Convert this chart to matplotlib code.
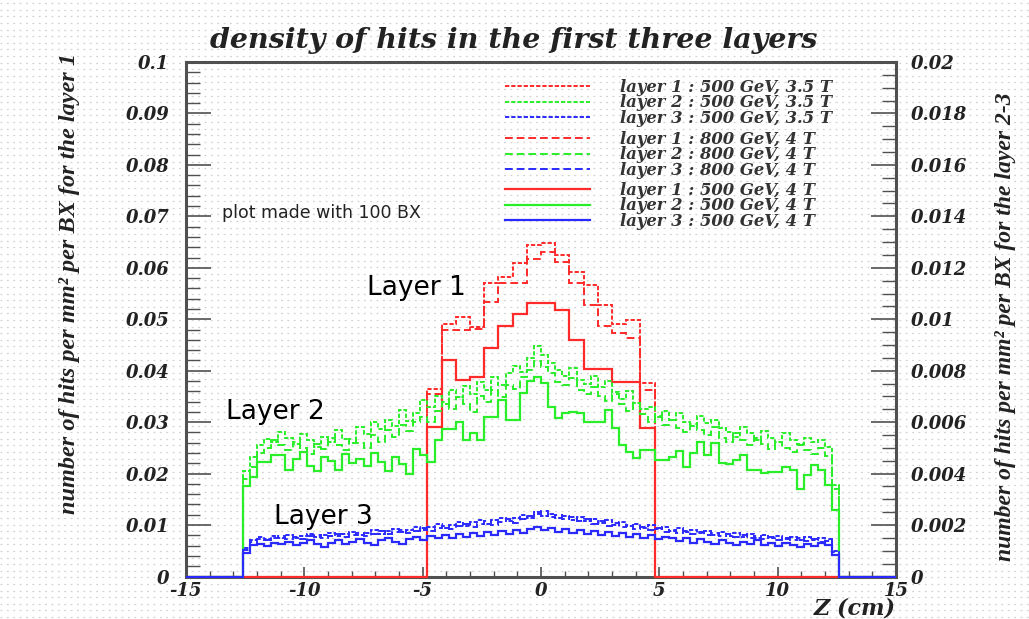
import numpy as np
import matplotlib
matplotlib.use("Agg")
import matplotlib.pyplot as plt
from matplotlib.ticker import MultipleLocator, FuncFormatter
from matplotlib.font_manager import FontProperties

# ---------------- data ----------------
Z_MIN, Z_MAX = -15.0, 15.0
N_FINE = 100          # 0.3 cm bins (layers 2-3)
N_COARSE = 50         # 0.6 cm bins (layer 1)
L1_FIRST_BIN = 17     # first filled coarse bin (z = -4.8 cm)
L23_FIRST_BIN = 8     # first filled fine bin (z = -12.6 cm)

# layer 1, left axis (hits / mm^2 / BX)
layer1_500_35 = [0.0365, 0.0490, 0.0505, 0.0485, 0.0570, 0.0583, 0.0609, 0.0644,
                 0.0648, 0.0625, 0.0592, 0.0567, 0.0528, 0.0490, 0.0499, 0.0376]
layer1_800_4 = [0.0355, 0.0479, 0.0480, 0.0481, 0.0534, 0.0570, 0.0570, 0.0618,
                0.0631, 0.0612, 0.0570, 0.0528, 0.0486, 0.0473, 0.0463, 0.0362]
layer1_500_4 = [0.0290, 0.0421, 0.0382, 0.0388, 0.0445, 0.0486, 0.0510, 0.0532,
                0.0532, 0.0518, 0.0460, 0.0403, 0.0403, 0.0379, 0.0379, 0.0288]

# layer 2, right axis
layer2_500_35 = [0.00410, 0.00464, 0.00510, 0.00536, 0.00524, 0.00562, 0.00540, 0.00516, 0.00552, 0.00532,
                 0.00504, 0.00544, 0.00524, 0.00570, 0.00536, 0.00518, 0.00580, 0.00552, 0.00600, 0.00572,
                 0.00610, 0.00584, 0.00648, 0.00604, 0.00636, 0.00686, 0.00660, 0.00700, 0.00670, 0.00724,
                 0.00696, 0.00740, 0.00710, 0.00756, 0.00724, 0.00776, 0.00744, 0.00790, 0.00820, 0.00796,
                 0.00850, 0.00896, 0.00860, 0.00830, 0.00804, 0.00780, 0.00810, 0.00764, 0.00750, 0.00780,
                 0.00736, 0.00760, 0.00716, 0.00690, 0.00720, 0.00676, 0.00650, 0.00660, 0.00620, 0.00644,
                 0.00610, 0.00636, 0.00600, 0.00584, 0.00624, 0.00596, 0.00610, 0.00576, 0.00560, 0.00544,
                 0.00580, 0.00556, 0.00532, 0.00564, 0.00540, 0.00524, 0.00556, 0.00530, 0.00516, 0.00540,
                 0.00524, 0.00532, 0.00504, 0.00356]
layer2_800_4 = [0.00380, 0.00424, 0.00480, 0.00500, 0.00530, 0.00510, 0.00490, 0.00524, 0.00500, 0.00476,
                0.00516, 0.00496, 0.00540, 0.00510, 0.00490, 0.00536, 0.00520, 0.00500, 0.00550, 0.00524,
                0.00570, 0.00544, 0.00590, 0.00564, 0.00600, 0.00620, 0.00600, 0.00644, 0.00680, 0.00650,
                0.00696, 0.00670, 0.00640, 0.00700, 0.00680, 0.00724, 0.00696, 0.00744, 0.00730, 0.00776,
                0.00804, 0.00836, 0.00816, 0.00790, 0.00756, 0.00744, 0.00770, 0.00724, 0.00710, 0.00736,
                0.00700, 0.00684, 0.00710, 0.00670, 0.00644, 0.00676, 0.00630, 0.00600, 0.00624, 0.00590,
                0.00610, 0.00576, 0.00560, 0.00592, 0.00570, 0.00550, 0.00580, 0.00540, 0.00524, 0.00556,
                0.00530, 0.00510, 0.00540, 0.00516, 0.00496, 0.00524, 0.00500, 0.00484, 0.00510, 0.00490,
                0.00476, 0.00500, 0.00470, 0.00340]
layer2_500_4 = [0.00350, 0.00386, 0.00446, 0.00446, 0.00472, 0.00472, 0.00414, 0.00456, 0.00484, 0.00430,
                0.00410, 0.00464, 0.00450, 0.00414, 0.00476, 0.00440, 0.00458, 0.00428, 0.00480, 0.00444,
                0.00410, 0.00466, 0.00436, 0.00400, 0.00496, 0.00472, 0.00444, 0.00532, 0.00572, 0.00572,
                0.00600, 0.00530, 0.00556, 0.00530, 0.00620, 0.00620, 0.00686, 0.00608, 0.00608, 0.00714,
                0.00760, 0.00776, 0.00752, 0.00660, 0.00616, 0.00636, 0.00640, 0.00636, 0.00600, 0.00600,
                0.00600, 0.00648, 0.00578, 0.00512, 0.00484, 0.00460, 0.00490, 0.00490, 0.00452, 0.00452,
                0.00466, 0.00486, 0.00424, 0.00480, 0.00524, 0.00472, 0.00518, 0.00442, 0.00438, 0.00452,
                0.00472, 0.00414, 0.00414, 0.00402, 0.00406, 0.00406, 0.00424, 0.00414, 0.00342, 0.00394,
                0.00434, 0.00414, 0.00356, 0.00258]

# layer 3, right axis
layer3_500_35 = [0.00110, 0.00140, 0.00152, 0.00146, 0.00158, 0.00150, 0.00162, 0.00148, 0.00156, 0.00166,
                 0.00152, 0.00160, 0.00170, 0.00156, 0.00164, 0.00174, 0.00160, 0.00170, 0.00180, 0.00166,
                 0.00176, 0.00186, 0.00172, 0.00182, 0.00192, 0.00180, 0.00194, 0.00204, 0.00190, 0.00200,
                 0.00212, 0.00198, 0.00210, 0.00220, 0.00206, 0.00218, 0.00228, 0.00214, 0.00226, 0.00240,
                 0.00228, 0.00252, 0.00236, 0.00244, 0.00226, 0.00236, 0.00220, 0.00230, 0.00214, 0.00224,
                 0.00208, 0.00218, 0.00202, 0.00212, 0.00196, 0.00206, 0.00190, 0.00200, 0.00184, 0.00194,
                 0.00178, 0.00188, 0.00172, 0.00182, 0.00168, 0.00178, 0.00162, 0.00172, 0.00158, 0.00168,
                 0.00154, 0.00164, 0.00150, 0.00160, 0.00148, 0.00158, 0.00146, 0.00154, 0.00142, 0.00152,
                 0.00140, 0.00150, 0.00138, 0.00100]
layer3_800_4 = [0.00104, 0.00134, 0.00146, 0.00140, 0.00150, 0.00158, 0.00144, 0.00154, 0.00146, 0.00156,
                0.00162, 0.00150, 0.00158, 0.00166, 0.00154, 0.00162, 0.00170, 0.00158, 0.00166, 0.00176,
                0.00164, 0.00172, 0.00182, 0.00170, 0.00178, 0.00188, 0.00176, 0.00190, 0.00198, 0.00186,
                0.00196, 0.00206, 0.00192, 0.00204, 0.00214, 0.00200, 0.00212, 0.00222, 0.00208, 0.00222,
                0.00236, 0.00244, 0.00256, 0.00232, 0.00240, 0.00222, 0.00230, 0.00214, 0.00222, 0.00206,
                0.00214, 0.00198, 0.00208, 0.00192, 0.00200, 0.00186, 0.00194, 0.00180, 0.00188, 0.00174,
                0.00182, 0.00168, 0.00176, 0.00164, 0.00172, 0.00160, 0.00168, 0.00156, 0.00164, 0.00152,
                0.00160, 0.00148, 0.00156, 0.00146, 0.00154, 0.00142, 0.00150, 0.00140, 0.00148, 0.00138,
                0.00146, 0.00136, 0.00144, 0.00096]
layer3_500_4 = [0.00092, 0.00124, 0.00128, 0.00120, 0.00132, 0.00126, 0.00136, 0.00124, 0.00130, 0.00140,
                0.00128, 0.00116, 0.00132, 0.00140, 0.00126, 0.00136, 0.00144, 0.00132, 0.00124, 0.00140,
                0.00148, 0.00136, 0.00128, 0.00144, 0.00152, 0.00140, 0.00156, 0.00148, 0.00160, 0.00150,
                0.00164, 0.00154, 0.00168, 0.00158, 0.00172, 0.00162, 0.00176, 0.00166, 0.00180, 0.00170,
                0.00184, 0.00192, 0.00180, 0.00188, 0.00174, 0.00184, 0.00170, 0.00180, 0.00166, 0.00176,
                0.00162, 0.00172, 0.00158, 0.00168, 0.00154, 0.00164, 0.00150, 0.00160, 0.00144, 0.00152,
                0.00148, 0.00138, 0.00148, 0.00132, 0.00144, 0.00136, 0.00128, 0.00140, 0.00132, 0.00124,
                0.00136, 0.00128, 0.00140, 0.00124, 0.00132, 0.00120, 0.00132, 0.00124, 0.00116, 0.00128,
                0.00120, 0.00132, 0.00124, 0.00084]

legend_labels = [
    ["layer 1 : 500 GeV, 3.5 T", "layer 2 : 500 GeV, 3.5 T", "layer 3 : 500 GeV, 3.5 T"],
    ["layer 1 : 800 GeV, 4 T", "layer 2 : 800 GeV, 4 T", "layer 3 : 800 GeV, 4 T"],
    ["layer 1 : 500 GeV, 4 T", "layer 2 : 500 GeV, 4 T", "layer 3 : 500 GeV, 4 T"],
]
title = "density of hits in the first three layers"
ylabel_left = "number of hits per mm\u00b2 per BX for the layer 1"
ylabel_right = "number of hits per mm\u00b2 per BX for the layer 2-3"
xlabel = "Z (cm)"
note = "plot made with 100 BX"
layer_tags = [("Layer 1", -7.35, 0.0561), ("Layer 2", -13.3, 0.0320), ("Layer 3", -11.3, 0.0116)]

# ---------------- style ----------------
plt.rcParams['font.family'] = ['DejaVu Serif', 'DejaVu Sans']
plt.rcParams['font.style'] = 'italic'
plt.rcParams['font.weight'] = 'bold'
RED, GREEN, BLUE = '#ff2a2a', '#2aee2a', '#2a2aff'
DOT = (0, (2.2, 1.0))
DASH = (0, (4.0, 2.0))
SOLID = '-'
AXC = '#505050'


def pad(values, first, n):
    out = np.zeros(n)
    out[first:first + len(values)] = values
    return out


W, H = 1029, 619
fig = plt.figure(figsize=(W / 100, H / 100), dpi=100)
fig.patch.set_facecolor('white')

# dotted paper texture in the background
bg = fig.add_axes([0, 0, 1, 1], zorder=-10)
bg.set_axis_off()
bg.set_xlim(0, 1)
bg.set_ylim(0, 1)
for yy in np.arange(2.0 / H, 1.0, 6.6 / H):
    bg.axhline(yy, color='#d2d2d2', lw=0.9, ls=(0, (1.5, 3.6)))

ax = fig.add_axes([186 / W, 1 - 576.5 / H, (896 - 186) / W, (576.5 - 62) / H])
ax.patch.set_visible(False)
ax.set_xlim(Z_MIN, Z_MAX)
ax.set_ylim(0, 0.1)
ax2 = ax.twinx()
ax2.patch.set_visible(False)
ax2.set_ylim(0, 0.02)

edges_c = np.linspace(Z_MIN, Z_MAX, N_COARSE + 1)
edges_f = np.linspace(Z_MIN, Z_MAX, N_FINE + 1)

h = {}
h['l1_35'] = ax.stairs(pad(layer1_500_35, L1_FIRST_BIN, N_COARSE), edges_c, color=RED, lw=1.4, ls=DOT, zorder=3, clip_on=False)
h['l1_8'] = ax.stairs(pad(layer1_800_4, L1_FIRST_BIN, N_COARSE), edges_c, color=RED, lw=1.4, ls=DASH, zorder=3, clip_on=False)
h['l1_4'] = ax.stairs(pad(layer1_500_4, L1_FIRST_BIN, N_COARSE), edges_c, color=RED, lw=1.6, ls=SOLID, zorder=3, clip_on=False)
h['l2_35'] = ax2.stairs(pad(layer2_500_35, L23_FIRST_BIN, N_FINE), edges_f, color=GREEN, lw=1.4, ls=DOT, zorder=3, clip_on=False)
h['l2_8'] = ax2.stairs(pad(layer2_800_4, L23_FIRST_BIN, N_FINE), edges_f, color=GREEN, lw=1.4, ls=DASH, zorder=3, clip_on=False)
h['l2_4'] = ax2.stairs(pad(layer2_500_4, L23_FIRST_BIN, N_FINE), edges_f, color=GREEN, lw=1.6, ls=SOLID, zorder=3, clip_on=False)
h['l3_35'] = ax2.stairs(pad(layer3_500_35, L23_FIRST_BIN, N_FINE), edges_f, color=BLUE, lw=1.4, ls=DOT, zorder=4, clip_on=False)
h['l3_8'] = ax2.stairs(pad(layer3_800_4, L23_FIRST_BIN, N_FINE), edges_f, color=BLUE, lw=1.4, ls=DASH, zorder=4, clip_on=False)
h['l3_4'] = ax2.stairs(pad(layer3_500_4, L23_FIRST_BIN, N_FINE), edges_f, color=BLUE, lw=1.6, ls=SOLID, zorder=4, clip_on=False)

# ---------------- axes ----------------
fmt = FuncFormatter(lambda v, p: '%g' % round(v, 6))
ax.xaxis.set_major_locator(MultipleLocator(5))
ax.xaxis.set_minor_locator(MultipleLocator(1))
ax.yaxis.set_major_locator(MultipleLocator(0.01))
ax.yaxis.set_minor_locator(MultipleLocator(0.002))
ax2.yaxis.set_major_locator(MultipleLocator(0.002))
ax2.yaxis.set_minor_locator(MultipleLocator(0.0005))
ax.xaxis.set_major_formatter(fmt)
ax.yaxis.set_major_formatter(fmt)
ax2.yaxis.set_major_formatter(fmt)

ax.tick_params(axis='x', which='major', direction='in', length=7, width=1.2, color=AXC, top=False, pad=4, labelsize=13, labelcolor='#222222')
ax.tick_params(axis='x', which='minor', direction='in', length=4, width=1.0, color=AXC, top=False)
ax.tick_params(axis='y', which='major', direction='in', length=18, width=1.2, color=AXC, right=False, pad=12, labelsize=13, labelcolor='#222222')
ax.tick_params(axis='y', which='minor', direction='in', length=10, width=1.0, color=AXC, right=False)
ax2.tick_params(axis='y', which='major', direction='in', length=18, width=1.2, color=AXC, left=False, right=True, pad=11, labelsize=13, labelcolor='#222222')
ax2.tick_params(axis='y', which='minor', direction='in', length=10, width=1.0, color=AXC, left=False, right=True)

for s in ax.spines.values():
    s.set_linewidth(2.2)
    s.set_color(AXC)
for s in ax2.spines.values():
    s.set_visible(False)

ax.set_xlabel(xlabel, loc='right', fontsize=16, weight='bold', style='italic', labelpad=-2, color='#222222')

# ---------------- texts ----------------
fig.text(0.499, 1 - 40 / H, title, ha='center', va='center', fontsize=20.5, color='#222222')
fig.text(70 / W, 1 - 283 / H, ylabel_left, rotation=90, ha='center', va='center',
         family=['Liberation Serif'], style='italic', weight='bold', fontsize=17.5, color='#222222')
fig.text(1005 / W, 1 - 327 / H, ylabel_right, rotation=90, ha='center', va='center',
         family=['Liberation Serif'], style='italic', weight='bold', fontsize=17, color='#222222')
ax.text(-13.5, 0.0707, note, ha='left', va='center', family=['DejaVu Sans'], style='normal',
        weight='normal', fontsize=12.5, color='#222222')
for txt, zx, yy in layer_tags:
    ax.text(zx, yy, txt, ha='left', va='center', family=['DejaVu Sans'], style='normal',
            weight='normal', fontsize=19, color='black', zorder=6)

# ---------------- legends ----------------
groups = [['l1_35', 'l2_35', 'l3_35'], ['l1_8', 'l2_8', 'l3_8'], ['l1_4', 'l2_4', 'l3_4']]
group_top = [79, 131, 182]
lp = FontProperties(family='DejaVu Serif', style='italic', weight='bold', size=11.8)
for keys, labs, top in zip(groups, legend_labels, group_top):
    fig.legend([h[k] for k in keys], labs, loc='upper left', bbox_to_anchor=(505 / W, 1 - top / H),
               frameon=False, prop=lp, handlelength=5.2, handletextpad=1.8, labelspacing=-0.1,
               borderpad=0, borderaxespad=0, labelcolor='#333333')

fig.savefig('out.png', dpi=100)
